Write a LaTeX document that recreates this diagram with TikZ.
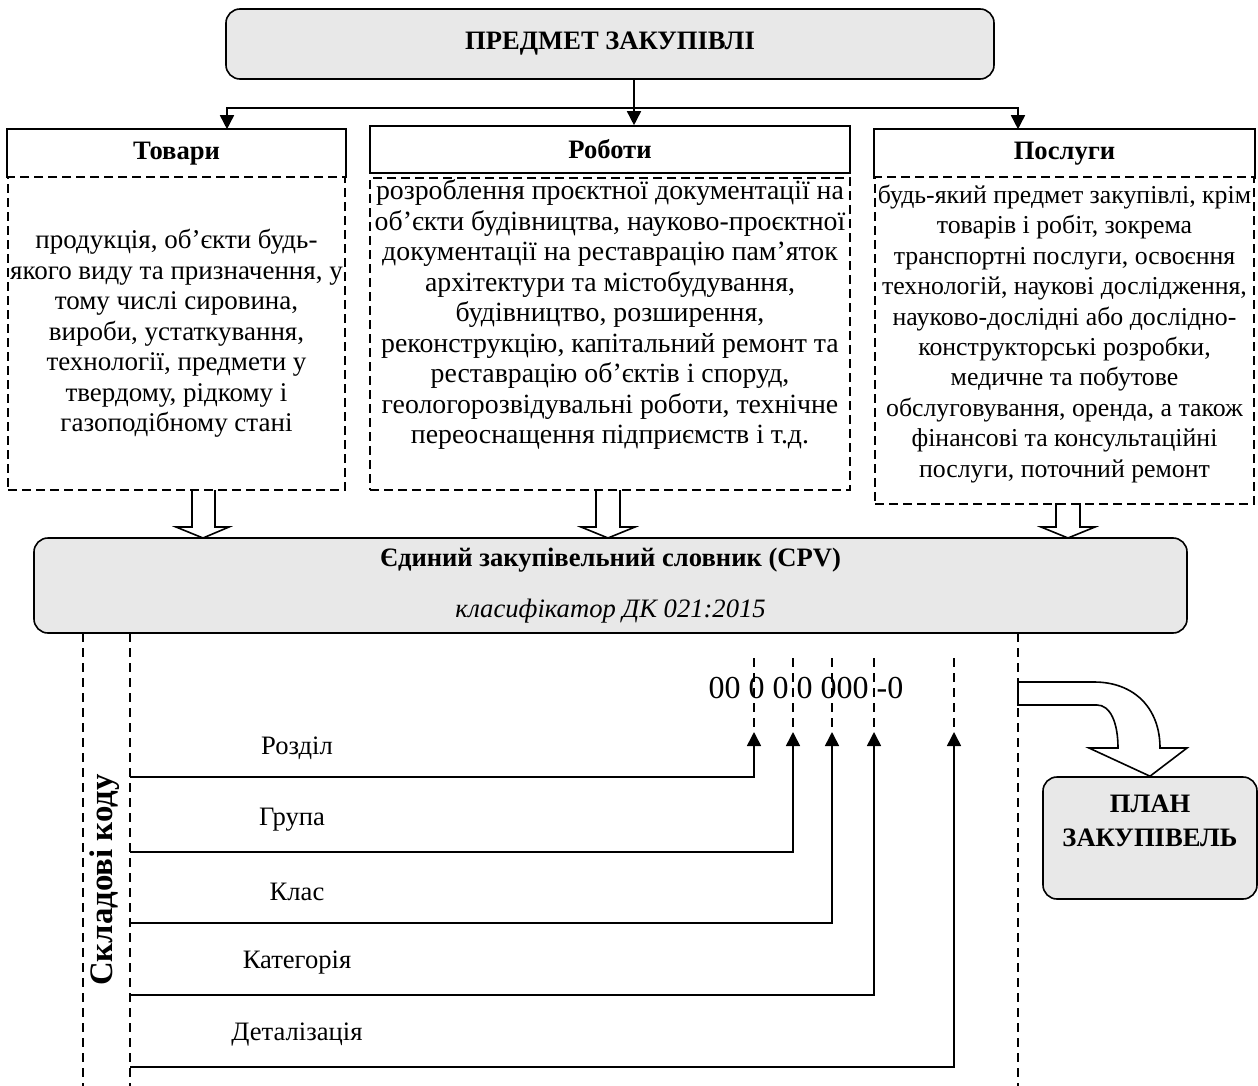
\documentclass[tikz,border=0pt]{standalone}
\usepackage{fontspec}
\setmainfont{Liberation Serif}
\usetikzlibrary{arrows.meta}
\usetikzlibrary{calc}
\definecolor{boxgray}{RGB}{232,232,232}

\begin{document}
\begin{tikzpicture}[x=0.5pt,y=-0.5pt,
        font=\fontsize{13.3}{15.25}\selectfont,
        line width=0.8pt,
        greybox/.style={draw,rounded corners=7pt,fill=boxgray,inner sep=0pt},
        headbox/.style={inner sep=0pt,font=\fontsize{13.3}{15.25}\selectfont\bfseries},
        bodybox/.style={draw,dash pattern=on 4.5pt off 2.5pt,inner sep=0pt,align=center},
        dashline/.style={dash pattern=on 4.5pt off 3pt},
        arr/.style={-{Triangle[length=7pt,width=7pt]}}]

            \useasboundingbox (0,0) rectangle (1258,1086);
            %\draw [help lines,step=50] (0,0) grid (1258,1086);

            \path   (610,44) node (a) [greybox,minimum width=384pt,minimum height=35pt,font=\fontsize{13.3}{15.25}\selectfont\bfseries] {ПРЕДМЕТ ЗАКУПІВЛІ}
                    (176.5,153.5) node (b) [headbox,minimum width=168.5pt,minimum height=23.5pt] {Товари}
                    (176.5,333.5) node (c) [bodybox,minimum width=168.5pt,minimum height=156.5pt,font=\fontsize{13.5}{15.25}\selectfont] {продукція, об’єкти будь-\\якого виду та призначення, у\\тому числі сировина,\\вироби, устаткування,\\технології, предмети у\\твердому, рідкому і\\газоподібному стані}
                    (610,149.5) node (d) [headbox,draw,minimum width=240pt,minimum height=23.5pt] {Роботи}
                    (610,334) node (e) [bodybox,minimum width=240pt,minimum height=156pt,font=\fontsize{13.9}{15.25}\selectfont] {\parbox[c][154pt][t]{238pt}{\centering розроблення проєктної документації на\\об’єкти будівництва, науково-проєктної\\документації на реставрацію пам’яток\\архітектури та містобудування,\\будівництво, розширення,\\реконструкцію, капітальний ремонт та\\реставрацію об’єктів і споруд,\\геологорозвідувальні роботи, технічне\\переоснащення підприємств і т.д.}}
                    (1064.5,154) node (f) [headbox,minimum width=189.5pt,minimum height=24pt] {Послуги}
                    (1064.5,340.5) node (g) [bodybox,minimum width=189.5pt,minimum height=163.5pt,font=\fontsize{12.9}{15.2}\selectfont] {\parbox[c][161.5pt][t]{187.5pt}{\centering\vspace*{3pt}будь-який предмет закупівлі, крім\\товарів і робіт, зокрема\\транспортні послуги, освоєння\\технологій, наукові дослідження,\\науково-дослідні або дослідно-\\конструкторські розробки,\\медичне та побутове\\обслуговування, оренда, а також\\фінансові та консультаційні\\послуги, поточний ремонт}}
                    (610.5,585.5) node (h) [greybox,minimum width=576.5pt,minimum height=47.5pt,align=center] {\textbf{Єдиний закупівельний словник (CPV)}\\[10pt]\textit{класифікатор ДК 021:2015}}
                    (1150,838) node (i) [greybox,minimum width=107pt,minimum height=61pt] {\parbox[c][59pt][t]{105pt}{\centering\bfseries\vspace*{8pt}ПЛАН\\[1.75pt]ЗАКУПІВЕЛЬ}};

            % headers of Товари and Послуги, open at the bottom
            \draw (b.south west) |- (b.north east) -- (b.south east);
            \draw (f.south west) |- (f.north east) -- (f.south east);

            \coordinate (m) at ($(a.south)+(24,28)$);
            \draw [arr] ($(a.south)+(24,0)$) -- ($(d.north)+(24,0)$);
            \draw [arr] (m) -| ($(b.north)+(50.5,0)$);
            \draw [arr] (m) -| ($(f.north)+(-46.5,0)$);

            % hollow arrows to CPV
            \draw (192,490) -- (192,527) -- (176,527) -- (203,538) -- (229,527) -- (215,527) -- (215,490);
            \draw (596,490) -- (596,527) -- (581,527) -- (608,538) -- (635,527) -- (620,527) -- (620,490);
            \draw (1056,503) -- (1056,527) -- (1041,527) -- (1068,538) -- (1095,527) -- (1080,527) -- (1080,503);

            % frame of the code
            \draw [dashline] (83,633) -- (83,1086);
            \draw [dashline] (130,633) -- (130,1086);
            \draw [dashline] (1018,633) -- (1018,1086);

            \path   (105,880) node (n) [rotate=90,font=\fontsize{16.4}{18}\selectfont\bfseries] {Складові коду}
                    (806,688) node (k) [font=\fontsize{16}{18}\selectfont] {00 0 0 0 000 -0};

            \coordinate (t1) at (754,658);  \coordinate (p1) at (754,732);  \coordinate (s1) at (130,777);
            \coordinate (t2) at (793,658);  \coordinate (p2) at (793,732);  \coordinate (s2) at (130,852);
            \coordinate (t3) at (832,658);  \coordinate (p3) at (832,732);  \coordinate (s3) at (130,923);
            \coordinate (t4) at (874,658);  \coordinate (p4) at (874,732);  \coordinate (s4) at (130,995);
            \coordinate (t5) at (954,658);  \coordinate (p5) at (954,732);  \coordinate (s5) at (130,1067);

            \draw [dashline] (t1) -- (p1);
            \draw [dashline] (t2) -- (p2);
            \draw [dashline] (t3) -- (p3);
            \draw [dashline] (t4) -- (p4);
            \draw [dashline] (t5) -- (p5);

            \draw [arr] (s1) -| (p1);
            \draw [arr] (s2) -| (p2);
            \draw [arr] (s3) -| (p3);
            \draw [arr] (s4) -| (p4);
            \draw [arr] (s5) -| (p5);

            \path   (297,748) node (l1) {Розділ}
                    (292,820) node (l2) {Група}
                    (297,892) node (l3) {Клас}
                    (297,963) node (l4) {Категорія}
                    (297,1035) node (l5) {Деталізація};

            % bent arrow to the plan
            \draw (1018,682) -- (1094,682) .. controls (1134,682) and (1160,708) .. (1160,748) -- (1187,748) -- (i.north) -- (1089,748) -- (1118,748) .. controls (1118,722) and (1110,705) .. (1097,705) -- (1018,705) -- cycle;

\end{tikzpicture}
\end{document}
